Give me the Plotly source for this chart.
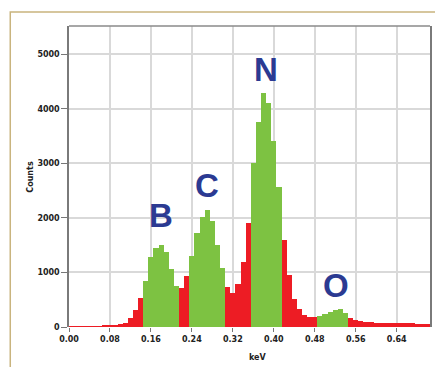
import plotly.graph_objects as go

# Energy bins (keV, bin centres, 0.01 keV wide) and counts
energy_kev = [round(0.01 * i, 2) for i in range(71)]
counts = [5, 5, 5, 5, 5, 8, 15, 22, 30, 45, 60, 65, 165, 316, 530,
          840, 1280, 1440, 1500, 1380, 1055, 760,
          715, 930,
          1310, 1730, 2010, 2140, 1940, 1505, 1075,
          742, 621, 790, 1200, 1900,
          3000, 3760, 4280, 4110, 3410, 2570,
          1590, 956, 520, 329, 225, 180, 175,
          210, 240, 270, 305, 329, 260,
          160, 120, 105, 90, 85, 75, 72, 68, 65, 65, 65, 65, 65, 62, 60, 55]

# Peak windows (keV) and their element labels
peak_labels = ["B", "C", "N", "O"]
peak_start = [0.145, 0.235, 0.355, 0.485]
peak_end = [0.215, 0.305, 0.415, 0.545]
label_x = [0.180, 0.269, 0.384, 0.521]
label_y = [2035, 2600, 4710, 764]

x_ticks = [0.00, 0.08, 0.16, 0.24, 0.32, 0.40, 0.48, 0.56, 0.64]
y_ticks = [0, 1000, 2000, 3000, 4000, 5000]

RED = "#ED1C24"
GREEN = "#7DC242"
BLUE = "#2B3A92"

def in_peak(e):
    return any(s <= e <= t for s, t in zip(peak_start, peak_end))

colors = [GREEN if in_peak(e) else RED for e in energy_kev]

fig = go.Figure()
fig.add_trace(go.Bar(x=energy_kev, y=counts, width=0.01,
                     marker=dict(color=colors, line=dict(width=0)),
                     hoverinfo="x+y"))

for lab, lx, ly in zip(peak_labels, label_x, label_y):
    fig.add_annotation(x=lx, y=ly, text=lab, showarrow=False,
                       font=dict(family="Liberation Sans, Arial", size=33,
                                 color=BLUE, weight="bold"),
                       xanchor="center", yanchor="middle")

fig.add_annotation(x=-0.1075, y=0.5, xref="paper", yref="paper", text="Counts",
                   textangle=-90, showarrow=False, xanchor="center", yanchor="middle",
                   font=dict(family="DejaVu Sans", size=8, color="#222", weight="bold"))
fig.add_annotation(x=0.524, y=-0.100, xref="paper", yref="paper", text="keV",
                   showarrow=False, xanchor="center", yanchor="middle",
                   font=dict(family="DejaVu Sans", size=8, color="#222", weight="bold"))

# outer tan frame and top plot border
fig.add_shape(type="path", xref="paper", yref="paper",
              path="M -0.1627,-0.2 L -0.1627,1.0464 L 1.2,1.0464",
              line=dict(color="#C9B47E", width=1.5))
fig.add_shape(type="line", xref="paper", yref="paper", x0=0, x1=1, y0=1, y1=1,
              line=dict(color="#8a8a8a", width=1.5))

tickfont = dict(family="DejaVu Sans", size=8, color="#222", weight="bold")
fig.update_xaxes(range=[0, 0.705], tickvals=x_ticks,
                 ticktext=[f"{v:.2f}" for v in x_ticks],
                 showgrid=True, gridcolor="#d9d9d9", gridwidth=1.5,
                 ticks="outside", ticklen=4, tickcolor="#777",
                 showline=False, zeroline=False, tickfont=tickfont)
fig.update_yaxes(range=[0, 5515], tickvals=y_ticks,
                 showgrid=True, gridcolor="#d9d9d9", gridwidth=1.5,
                 ticks="outside", ticklen=6, tickcolor="#777",
                 showline=True, linecolor="#7a7a7a", linewidth=1.5, mirror=True,
                 zeroline=False, tickfont=tickfont)

fig.update_layout(width=435, height=367,
                  margin=dict(l=69, r=3.3, t=25.7, b=39.7),
                  paper_bgcolor="white", plot_bgcolor="white",
                  showlegend=False, bargap=0)

fig.write_html("out.html")
